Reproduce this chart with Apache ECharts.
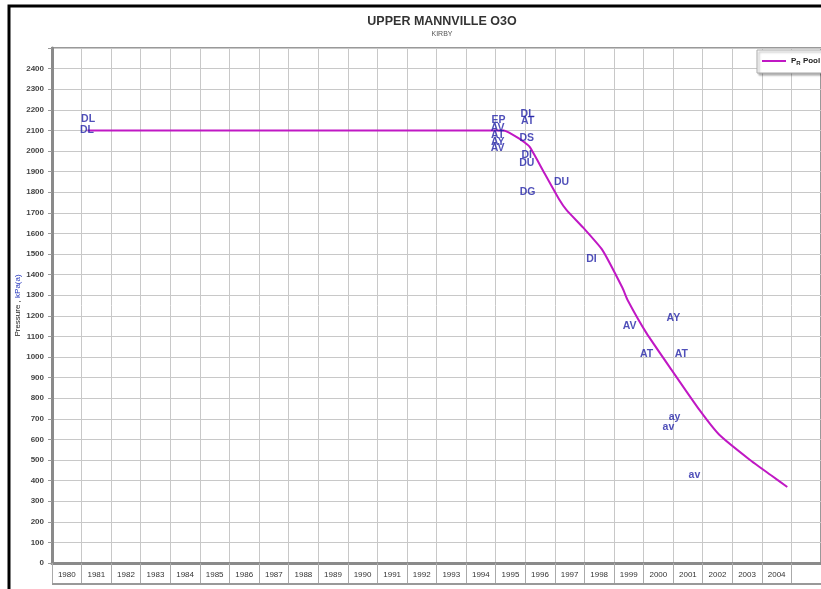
<!DOCTYPE html>
<html>
<head>
<meta charset="utf-8">
<script src="https://cdn.jsdelivr.net/npm/echarts@6/dist/echarts.min.js"></script>
<style>
  html, body { margin: 0; padding: 0; background: #fff; }
  #main { width: 821px; height: 589px; }
</style>
</head>
<body>
<div id="main"></div>
<script>
// axis labels
var yearLabels = ['1980', '1981', '1982', '1983', '1984', '1985', '1986', '1987', '1988', '1989',
  '1990', '1991', '1992', '1993', '1994', '1995', '1996', '1997', '1998', '1999',
  '2000', '2001', '2002', '2003', '2004', ''];

// PR Pool curve (decimal year, kPa)
var poolYears = [1981.2, 1995.27, 1995.8, 1996.15, 1996.59, 1997.16, 1997.40, 1997.94, 1998.61, 1999.29,
  1999.46, 2000.10, 2000.95, 2001.89, 2002.57, 2003.6, 2004.3, 2004.86];
var poolPressure = [2100, 2100, 2060, 2020, 1908, 1762, 1713, 1631, 1519, 1335,
  1277, 1116, 937, 743, 621, 500, 427, 369];

// well test codes
var wellYears = [1981.22, 1981.18, 1995.10, 1995.07, 1995.07, 1995.07, 1995.07,
  1996.08, 1996.08, 1996.05, 1996.05, 1996.05, 1996.08, 1997.23, 1998.24,
  1999.53, 2001.01, 2000.10, 2001.28, 2001.05, 2000.84, 2001.72];
var wellPressure = [2155, 2102, 2150, 2111, 2077, 2044, 2014,
  2180, 2145, 2063, 1980, 1942, 1801, 1849, 1476,
  1150, 1189, 1014, 1014, 709, 660, 427];
var wellCodes = ['DL', 'DL', 'EP', 'AV', 'AT', 'AY', 'AV',
  'DL', 'AT', 'DS', 'DI', 'DU', 'DG', 'DU', 'DI',
  'AV', 'AY', 'AT', 'AT', 'ay', 'av', 'av'];

var wells = wellYears.map(function (y, i) {
  return [y, wellPressure[i], wellCodes[i]];
});
var pool = poolYears.map(function (y, i) {
  return [y, poolPressure[i]];
});

var myChart = echarts.init(document.getElementById('main'));
myChart.setOption({
  animation: false,
  textStyle: { fontFamily: 'Liberation Sans, Arial, sans-serif' },
  title: {
    text: 'UPPER MANNVILLE O3O',
    subtext: 'KIRBY',
    left: 437,
    textAlign: 'center',
    top: 10,
    itemGap: 3,
    textStyle: { fontSize: 12.5, fontWeight: 'bold', color: '#333' },
    subtextStyle: { fontSize: 7, color: '#555' }
  },
  legend: {
    left: 757,
    top: 50,
    padding: [7, 6, 7, 5],
    backgroundColor: '#fff',
    borderColor: '#aaa',
    borderWidth: 1,
    shadowColor: 'rgba(0,0,0,0.3)',
    shadowOffsetX: 2,
    shadowOffsetY: 2,
    shadowBlur: 2,
    itemWidth: 24,
    itemHeight: 2,
    icon: 'rect',
    data: ['PR Pool'],
    formatter: function () { return '{p|P}{s|R}{p| Pool}'; },
    textStyle: {
      rich: {
        p: { fontSize: 8, fontWeight: 'bold', color: '#222' },
        s: { fontSize: 6, fontWeight: 'bold', color: '#222', padding: [4, 0, 0, 0] }
      }
    }
  },
  grid: {
    left: 52,
    right: 0,
    top: 48,
    bottom: 26,
    show: true,
    borderColor: '#999',
    borderWidth: 2
  },
  xAxis: [{
    type: 'value',
    min: 1980,
    max: 2006,
    interval: 1,
    axisLine: { show: false },
    axisTick: { show: false },
    axisLabel: { show: false },
    splitLine: { lineStyle: { color: '#c8c8c8', width: 1 } }
  }, {
    type: 'category',
    data: yearLabels,
    boundaryGap: true,
    position: 'bottom',
    axisLine: { show: true, lineStyle: { color: '#8a8a8a', width: 3 } },
    axisTick: { show: true, interval: 0, length: 20, lineStyle: { color: '#aaa' } },
    axisLabel: { interval: 0, fontSize: 8, color: '#333', margin: 8 },
    splitLine: { show: false }
  }],
  yAxis: {
    type: 'value',
    min: 0,
    max: 2500,
    interval: 100,
    name: '{a|Pressure , }{b|kPa(a)}',
    nameLocation: 'middle',
    nameRotate: 90,
    nameGap: 30,
    nameMoveOverlap: false,
    nameTextStyle: {
      rich: {
        a: { fontSize: 8, color: '#222' },
        b: { fontSize: 8, color: '#2233bb' }
      }
    },
    axisLine: { show: true, lineStyle: { color: '#8a8a8a', width: 3 } },
    axisTick: { show: true, length: 4, lineStyle: { color: '#999' } },
    axisLabel: {
      fontSize: 8,
      fontWeight: 'bold',
      color: '#444',
      margin: 8,
      formatter: function (v) { return v === 2500 ? '' : v; }
    },
    splitLine: { lineStyle: { color: '#c8c8c8', width: 1 } }
  },
  series: [{
    name: 'PR Pool',
    type: 'line',
    xAxisIndex: 0,
    data: pool,
    smooth: 0.15,
    showSymbol: false,
    color: '#c018c4',
    lineStyle: { width: 2, color: '#c018c4' },
    z: 3
  }, {
    name: 'wells',
    type: 'scatter',
    xAxisIndex: 0,
    data: wells,
    symbolSize: 1,
    itemStyle: { color: 'rgba(0,0,0,0)' },
    label: {
      show: true,
      position: 'inside',
      formatter: function (p) { return p.data[2]; },
      fontSize: 10.5,
      fontWeight: 'bold',
      color: '#2323a8'
    },
    z: 4
  }],
  graphic: [{
    type: 'line',
    shape: { x1: 52, y1: 584, x2: 821, y2: 584 },
    style: { stroke: '#999', lineWidth: 2 }
  }, {
    type: 'polyline',
    shape: { points: [[9, 589], [9, 6], [821, 6]] },
    style: { stroke: '#000', lineWidth: 3, fill: null }
  }]
});
</script>
</body>
</html>
